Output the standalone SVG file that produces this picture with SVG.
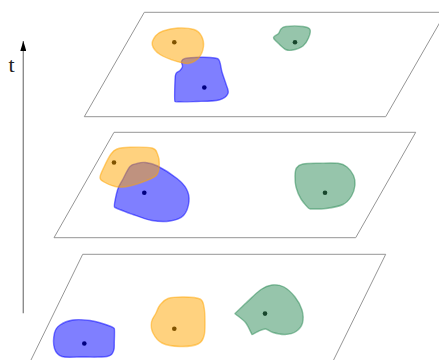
<svg xmlns="http://www.w3.org/2000/svg" width="439" height="360" viewBox="0 0 439 360">
  <style>
    .plane { fill: none; stroke: #8a8a8a; stroke-width: 0.9; }
    .blob { fill-opacity: 0.5; stroke-opacity: 0.5; stroke-width: 1.4; stroke-linejoin: round; }
    .blue { fill: #0000ff; stroke: #0000ff; }
    .orange { fill: #ffa500; stroke: #ffa500; }
    .green { fill: #2e8b57; stroke: #2e8b57; }
    .dot { fill: #000000; }
    .axis { stroke: #8c8c8c; stroke-width: 1.4; fill: none; }
    .label { font-family: "Liberation Serif", "DejaVu Serif", serif; font-size: 22px; fill: #222222; }
  </style>
  <defs>
    <!-- arrowhead drawn along +x so orient="auto" follows the line -->
    <marker id="arrowhead" markerWidth="10" markerHeight="6" refX="10" refY="3" orient="auto" markerUnits="userSpaceOnUse" viewBox="0 0 10 6">
      <path d="M0,0 L10,3 L0,6 Z" fill="#000000"/>
    </marker>
  </defs>

  <!-- time slices -->
  <g id="planes">
    <polygon id="plane-top" class="plane" points="144.3,12.3 445.7,12.3 385.7,116.7 84.3,116.7"/>
    <polygon id="plane-middle" class="plane" points="114,132.3 415.7,132.3 355.7,237.7 54,237.7"/>
    <polygon id="plane-bottom" class="plane" points="82.7,254.3 385.7,254.3 332.6,362 30,362"/>
  </g>

  <!-- top slice -->
  <g id="top-blue">
    <circle class="dot" cx="204.3" cy="87.5" r="2.3"/>
    <path class="blob blue" d="M185,58.5 C181.92,59.2 181.92,60.17 181.5,61.5 C181.08,62.83 182.75,65 182.5,66.5 C182.25,68 181.08,69.33 180,70.5 C178.92,71.67 176.830,71.92 176,73.5 C175.17,75.08 175.17,75.33 175,80 C174.83,84.67 174.2,100.7 175,101.5 C175.8,102.3 188.67,101.75 196,101.5 C203.33,101.25 213.67,101.33 219,100 C224.33,98.67 226.83,96.17 228,93.5 C229.17,90.83 227,87.58 226,84 C225,80.42 223.08,75.83 222,72 C220.92,68.17 220.67,63.33 219.5,61 C218.33,58.67 218.25,58.62 215,58 C211.75,57.38 205,57.22 200,57.3 C195,57.38 188.08,57.8 185,58.5 Z"/>
  </g>
  <g id="top-orange">
    <circle class="dot" cx="174.3" cy="42.3" r="2.3"/>
    <path class="blob orange" d="M152.3,45 C151.55,41.92 153.72,38.33 155.5,36 C157.28,33.67 159.25,32.33 163,31 C166.75,29.67 172.83,28.25 178,28 C183.17,27.75 190.08,28.17 194,29.5 C197.92,30.83 199.92,33.17 201.5,36 C203.08,38.83 203.92,42.92 203.5,46.5 C203.08,50.08 201.42,54.7 199,57.5 C196.58,60.3 192.58,62.6 189,63.3 C185.42,64 182.33,63.17 177.5,61.7 C172.67,60.23 164.2,57.28 160,54.5 C155.8,51.72 153.05,48.08 152.3,45 Z"/>
  </g>
  <g id="top-green">
    <circle class="dot" cx="295" cy="42.3" r="2.3"/>
    <path class="blob green" d="M273.5,37.5 C273.75,36.08 277.25,34.92 278.5,33.5 C279.75,32.08 279.75,30.17 281,29 C282.25,27.83 282.33,26.92 286,26.5 C289.67,26.08 299,26 303,26.5 C307,27 309.08,27.58 310,29.5 C310.92,31.42 309.67,35.25 308.5,38 C307.33,40.75 305.58,44 303,46 C300.42,48 295.92,49.42 293,50 C290.08,50.58 288.17,50.83 285.5,49.5 C282.83,48.17 279,44 277,42 C275,40 273.25,38.92 273.5,37.5 Z"/>
  </g>

  <!-- middle slice -->
  <g id="middle-blue">
    <circle class="dot" cx="144.3" cy="192.8" r="2.3"/>
    <path class="blob blue" d="M137,163.5 C134.5,164.17 132.33,163.92 130,166.5 C127.67,169.08 125.08,175.08 123,179 C120.92,182.92 118.92,185.33 117.5,190 C116.08,194.67 113.7,205.8 114.5,207 C115.3,208.2 126.75,212.25 133,214.5 C139.25,216.75 145.83,219.42 152,220.5 C158.17,221.58 164.75,221.83 170,221 C175.25,220.17 180.33,218.75 183.5,215.5 C186.67,212.25 188.5,205.92 189,201.5 C189.5,197.08 188.5,192.83 186.5,189 C184.5,185.17 181.83,182.33 177,178.5 C172.17,174.67 162.83,168.67 157.5,166 C152.17,163.33 148.42,162.92 145,162.5 C141.58,162.08 139.5,162.83 137,163.5 Z"/>
  </g>
  <g id="middle-orange">
    <circle class="dot" cx="114" cy="162.5" r="2.3"/>
    <path class="blob orange" d="M100,177.5 C100,175 102.17,170.92 104,167 C105.83,163.08 108.83,157 111,154 C113.17,151 113.83,150.12 117,149 C120.17,147.88 124.17,147.47 130,147.3 C135.83,147.13 147.42,146.88 152,148 C156.58,149.12 156.28,151.33 157.5,154 C158.72,156.67 159.38,160.58 159.3,164 C159.22,167.42 158.88,171.83 157,174.5 C155.12,177.17 153,178 148,180 C143,182 132.5,185.42 127,186.5 C121.5,187.58 118.83,187.25 115,186.5 C111.17,185.75 106.5,183.5 104,182 C101.5,180.5 100,180 100,177.5 Z"/>
  </g>
  <g id="middle-green">
    <circle class="dot" cx="325" cy="192.8" r="2.3"/>
    <path class="blob green" d="M296.5,168 C297.83,166 299.08,164.8 303,164 C306.92,163.2 314.17,163.32 320,163.2 C325.83,163.08 333.5,162.67 338,163.3 C342.5,163.93 344.42,164.97 347,167 C349.58,169.03 352.17,172.5 353.5,175.5 C354.83,178.5 355.33,181.58 355,185 C354.67,188.42 353.5,192.75 351.5,196 C349.5,199.25 347.25,202.42 343,204.5 C338.75,206.58 331.5,207.75 326,208.5 C320.5,209.25 311.2,209 310,209 C308.8,209 303.33,202.67 301,199 C298.67,195.33 297,190.83 296,187 C295,183.17 294.92,179.17 295,176 C295.08,172.83 295.17,170 296.5,168 Z"/>
  </g>

  <!-- bottom slice -->
  <g id="bottom-blue">
    <circle class="dot" cx="84.3" cy="343.5" r="2.3"/>
    <path class="blob blue" d="M54.5,333 C55.42,329.08 56.92,327.17 60,325 C63.08,322.83 68,320.75 73,320 C78,319.25 84.83,319.83 90,320.5 C95.17,321.17 99.95,322.67 104,324 C108.05,325.33 113.8,327.5 114.3,328.5 C114.8,329.5 114.43,338.25 114.3,342 C114.17,345.75 114.72,348.58 113.5,351 C112.28,353.42 112.58,355.5 107,356.5 C101.42,357.5 87.5,357 80,357 C72.5,357 66.25,357.92 62,356.5 C57.75,355.08 55.75,352.42 54.5,348.5 C53.25,344.58 53.58,336.92 54.5,333 Z"/>
  </g>
  <g id="bottom-orange">
    <circle class="dot" cx="174.3" cy="328.8" r="2.3"/>
    <path class="blob orange" d="M160,305 C162,302.58 164,299.83 168,298.5 C172,297.17 178.67,296.92 184,297 C189.33,297.08 196.67,297.33 200,299 C203.33,300.67 203.17,303.17 204,307 C204.83,310.83 205,317.17 205,322 C205,326.83 205.17,332.33 204,336 C202.83,339.67 202,342.25 198,344 C194,345.75 186,346.67 180,346.5 C174,346.33 166.5,345.25 162,343 C157.5,340.75 154.75,336.5 153,333 C151.25,329.5 151,325.33 151.5,322 C152,318.67 154.58,315.830 156,313 C157.42,310.17 158,307.42 160,305 Z"/>
  </g>
  <g id="bottom-green">
    <circle class="dot" cx="265" cy="313.6" r="2.3"/>
    <path class="blob green" d="M235,313.5 C235.6,313.2 241.67,307 246,303 C250.33,299 256.67,292.5 261,289.5 C265.33,286.5 268.17,285.42 272,285 C275.83,284.58 280.17,285 284,287 C287.83,289 292,293.17 295,297 C298,300.83 300.75,305.67 302,310 C303.25,314.33 303.5,319.42 302.5,323 C301.5,326.58 298.92,329.58 296,331.5 C293.08,333.42 288.83,334.33 285,334.5 C281.17,334.67 276.25,333.42 273,332.5 C269.75,331.58 268,329.17 265.5,329 C263,328.83 260.25,330.58 258,331.5 C255.75,332.42 252.5,335 252,334.5 C251.5,334 248.33,326 245.5,322.5 C242.67,319 234.4,313.8 235,313.5 Z"/>
  </g>

  <!-- time axis -->
  <g id="connectors">
    <line id="time-axis" class="axis" x1="23.3" y1="313.3" x2="23.3" y2="41" marker-end="url(#arrowhead)"/>
  </g>
  <g id="time-label">
    <text class="label" x="8.5" y="71.5">t</text>
  </g>
</svg>
